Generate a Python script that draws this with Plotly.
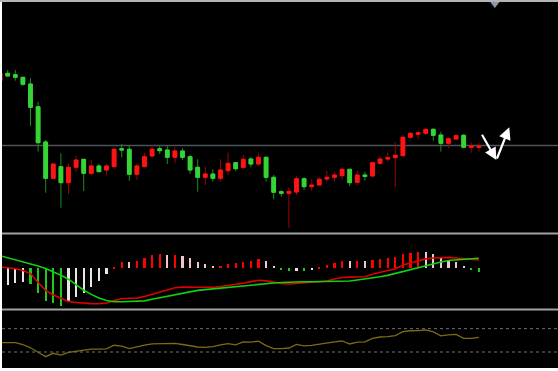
import plotly.graph_objects as go

# ---------------- data ----------------
idx = list(range(-1, 63))

opens = [16.93, 17.67, 17.53, 17.27, 16.60, 14.33, 10.80, 7.17, 8.33, 6.73, 8.27, 9.07, 7.67, 8.40, 8.00, 8.33,
         10.13, 10.07, 7.57, 8.33, 9.40, 10.13, 10.00, 9.27, 9.90, 9.33, 8.27, 7.27, 7.60, 7.17, 7.93, 8.73,
         8.27, 9.10, 8.60, 9.27, 7.27, 5.83, 5.67, 5.80, 7.13, 6.33, 6.50, 7.10, 7.27, 7.43, 8.07, 6.77,
         7.50, 7.40, 8.67, 9.10, 9.23, 9.43, 11.27, 11.57, 11.67, 12.07, 11.50, 10.67, 11.10, 11.47, 10.27, 10.27]
highs = [17.80, 18.00, 18.00, 17.30, 17.17, 14.83, 11.00, 8.60, 9.67, 8.67, 9.43, 9.07, 9.00, 8.63, 8.63, 10.17,
         10.60, 10.50, 8.67, 9.73, 10.50, 10.40, 10.40, 10.27, 10.17, 9.50, 9.07, 8.33, 8.07, 9.07, 9.73, 8.83,
         9.50, 9.27, 9.67, 9.33, 7.50, 6.00, 6.27, 7.43, 7.27, 7.07, 7.30, 7.90, 7.83, 8.17, 8.07, 7.93,
         7.83, 8.83, 9.33, 9.73, 10.77, 11.50, 11.73, 11.93, 12.17, 12.17, 11.83, 11.27, 11.60, 11.60, 10.73, 10.73]
lows = [16.80, 17.33, 16.93, 16.43, 12.43, 9.83, 5.73, 7.10, 4.23, 5.60, 7.83, 5.90, 7.47, 7.83, 7.50, 8.33,
        9.27, 6.93, 7.00, 8.33, 9.27, 9.60, 8.60, 8.67, 9.00, 7.60, 5.83, 6.50, 6.83, 6.83, 7.50, 7.93,
        8.07, 8.27, 8.40, 6.83, 5.07, 5.33, 2.23, 5.50, 6.00, 5.93, 6.45, 6.83, 6.83, 7.07, 6.40, 6.50,
        6.93, 7.27, 8.50, 8.83, 6.27, 9.43, 11.07, 11.07, 11.50, 10.93, 9.83, 10.17, 11.05, 10.17, 9.73, 9.83]
closes = [17.67, 17.40, 17.27, 16.57, 14.27, 10.73, 7.17, 8.60, 6.73, 8.27, 9.00, 7.67, 8.40, 7.83, 8.40, 10.07,
          10.00, 7.57, 8.40, 9.33, 10.07, 9.93, 9.27, 9.90, 9.27, 8.00, 7.27, 7.60, 7.17, 8.00, 8.67, 8.13,
          9.07, 8.60, 9.27, 7.27, 5.77, 5.67, 5.87, 7.13, 6.33, 6.50, 7.07, 7.27, 7.50, 8.07, 6.73, 7.50,
          7.35, 8.73, 9.10, 9.23, 9.47, 11.27, 11.67, 11.73, 12.07, 11.47, 10.67, 11.13, 11.43, 10.27, 10.40, 10.40]

dif = [0.016, 0.006, -0.004, -0.022, -0.053, -0.142, -0.221, -0.267, -0.303, -0.331, -0.342, -0.350, -0.353, -0.355,
       -0.347, -0.323, -0.304, -0.300, -0.299, -0.281, -0.261, -0.235, -0.215, -0.195, -0.187, -0.185, -0.189, -0.190,
       -0.190, -0.182, -0.172, -0.161, -0.150, -0.133, -0.120, -0.126, -0.139, -0.152, -0.157, -0.150, -0.145, -0.140,
       -0.133, -0.127, -0.107, -0.092, -0.088, -0.084, -0.084, -0.060, -0.039, -0.022, -0.007, 0.032, 0.054, 0.073,
       0.094, 0.103, 0.107, 0.109, 0.103, 0.094, 0.088, 0.083]
dea = [0.126, 0.106, 0.086, 0.066, 0.047, 0.023, -0.002, -0.033, -0.070, -0.109, -0.167, -0.219, -0.261, -0.297,
       -0.322, -0.334, -0.334, -0.333, -0.330, -0.326, -0.310, -0.295, -0.278, -0.261, -0.247, -0.233, -0.221, -0.213,
       -0.205, -0.198, -0.193, -0.185, -0.177, -0.169, -0.161, -0.154, -0.147, -0.142, -0.138, -0.135, -0.134, -0.134,
       -0.134, -0.134, -0.134, -0.133, -0.127, -0.117, -0.108, -0.097, -0.085, -0.071, -0.051, -0.035, -0.018, 0.003,
       0.026, 0.045, 0.063, 0.078, 0.086, 0.091, 0.096, 0.100]
macd_hist = [-0.180, -0.167, -0.150, -0.140, -0.160, -0.243, -0.327, -0.343, -0.373, -0.333, -0.283, -0.243, -0.190,
             -0.123, -0.060, 0.017, 0.067, 0.065, 0.073, 0.100, 0.133, 0.140, 0.133, 0.135, 0.127, 0.100, 0.060, 0.043,
             0.020, 0.023, 0.040, 0.050, 0.067, 0.073, 0.093, 0.073, 0.027, -0.020, -0.030, -0.023, -0.027, -0.017,
             0.010, 0.033, 0.050, 0.077, 0.073, 0.077, 0.073, 0.083, 0.093, 0.107, 0.110, 0.140, 0.157, 0.167, 0.163,
             0.140, 0.107, 0.083, 0.060, 0.027, -0.017, -0.033]

osc = [44.0, 44.0, 44.0, 39.3, 30.8, 19.3, 8.0, 16.7, 12.1, 19.3, 22.6, 24.9, 27.5, 27.2, 28.3, 37.3, 35.2, 29.0,
       33.9, 37.8, 40.9, 40.9, 41.1, 42.2, 39.3, 35.5, 32.9, 32.1, 33.9, 38.3, 41.6, 38.6, 45.8, 45.2, 48.1, 36.5,
       28.5, 28.8, 30.3, 39.6, 35.7, 37.3, 40.6, 42.9, 45.8, 48.3, 40.6, 45.2, 46.0, 54.8, 58.6, 59.4, 62.2, 72.2,
       74.6, 74.8, 76.6, 71.5, 61.7, 63.8, 65.3, 55.3, 55.3, 57.8]
osc_levels = [80, 20]

# arrow sketch (index, price): start, tip, end
arrow_pts = [(62.3, 11.67), (64.3, 9.0), (66.0, 12.27)]
marker_pt = (64.1, 24.6)

# ---------------- styling ----------------
RED_BODY, RED_WICK = "#ff1414", "#a00000"
GRN_BODY, GRN_WICK = "#36d436", "#1d8f1d"

fig = go.Figure()

# wicks (dark)
fig.add_trace(go.Candlestick(
    x=idx, open=opens, high=highs, low=lows, close=closes,
    increasing=dict(line=dict(color=RED_WICK, width=1), fillcolor=RED_WICK),
    decreasing=dict(line=dict(color=GRN_WICK, width=1), fillcolor=GRN_WICK),
    xaxis="x", yaxis="y", hoverinfo="skip", showlegend=False))
# bodies (bright)
body_hi = [max(o, c) for o, c in zip(opens, closes)]
body_lo = [min(o, c) for o, c in zip(opens, closes)]
fig.add_trace(go.Candlestick(
    x=idx, open=opens, high=body_hi, low=body_lo, close=closes,
    increasing=dict(line=dict(color=RED_BODY, width=1), fillcolor=RED_BODY),
    decreasing=dict(line=dict(color=GRN_BODY, width=1), fillcolor=GRN_BODY),
    xaxis="x", yaxis="y", hoverinfo="skip", showlegend=False))

# top marker
fig.add_trace(go.Scatter(x=[marker_pt[0]], y=[marker_pt[1]], mode="markers",
                         marker=dict(symbol="triangle-down", size=8, color="#8796aa"),
                         cliponaxis=False, xaxis="x", yaxis="y", showlegend=False))

# MACD histogram colours
colors = []
prev = None
for v in macd_hist:
    if prev is None:
        colors.append("#e6e6e6" if v < 0 else "#ff0000")
    elif v >= 0:
        colors.append("#ff0000" if v >= prev else "#f2c4cc")
    else:
        colors.append("#1ec81e" if v < prev else "#e6e6e6")
    prev = v

fig.add_trace(go.Bar(x=idx, y=macd_hist, marker=dict(color=colors, line=dict(width=0)),
                     width=0.27, xaxis="x", yaxis="y2", showlegend=False))
fig.add_trace(go.Scatter(x=idx, y=dif, mode="lines", line=dict(color="#e00000", width=1.6),
                         xaxis="x", yaxis="y2", showlegend=False))
fig.add_trace(go.Scatter(x=idx, y=dea, mode="lines", line=dict(color="#12d012", width=1.6),
                         xaxis="x", yaxis="y2", showlegend=False))

# oscillator
fig.add_trace(go.Scatter(x=idx, y=osc, mode="lines", line=dict(color="#7d6a14", width=1.3),
                         xaxis="x", yaxis="y3", showlegend=False))

H = 366.0
W = 556.0
def frac(py):
    return (368.0 - py) / H

shapes = [
    dict(type="rect", xref="paper", yref="paper", x0=0, x1=1, y0=0, y1=1,
         fillcolor="black", line=dict(width=0), layer="below"),
    dict(type="rect", xref="paper", yref="paper", x0=-2 / W, x1=1, y0=1, y1=1 + 2 / H,
         fillcolor="#b4b4b4", line=dict(width=0), layer="above"),
    dict(type="line", xref="paper", yref="paper", x0=0, x1=1, y0=frac(233.6), y1=frac(233.6),
         line=dict(color="#a2a2a2", width=2)),
    dict(type="line", xref="paper", yref="paper", x0=0, x1=1, y0=frac(309.6), y1=frac(309.6),
         line=dict(color="#a2a2a2", width=2)),
    dict(type="line", xref="paper", yref="y", x0=0, x1=1, y0=closes[-1] + 0.05, y1=closes[-1] + 0.05,
         line=dict(color="#4e525a", width=1.6), layer="below"),
]
for lv in osc_levels:
    shapes.append(dict(type="line", xref="paper", yref="y3", x0=0, x1=1, y0=lv, y1=lv,
                       line=dict(color="#707070", width=1, dash="dot")))

annotations = [
    dict(x=arrow_pts[1][0], y=arrow_pts[1][1], ax=arrow_pts[0][0], ay=arrow_pts[0][1],
         xref="x", yref="y", axref="x", ayref="y", text="", showarrow=True,
         arrowhead=2, arrowsize=1.1, arrowwidth=2.2, arrowcolor="white"),
    dict(x=arrow_pts[2][0], y=arrow_pts[2][1], ax=arrow_pts[1][0], ay=arrow_pts[1][1],
         xref="x", yref="y", axref="x", ayref="y", text="", showarrow=True,
         arrowhead=2, arrowsize=1.1, arrowwidth=2.2, arrowcolor="white"),
]

fig.update_layout(
    width=558, height=371,
    margin=dict(l=2, r=0, t=2, b=3, pad=0),
    paper_bgcolor="white", plot_bgcolor="black",
    showlegend=False, bargap=0,
    xaxis=dict(range=[-0.75, 72.41], visible=False, rangeslider=dict(visible=False),
               domain=[0, 1], anchor="y3", fixedrange=True),
    yaxis=dict(range=[1.8, 24.8], domain=[frac(232), 1], visible=False, anchor="x", fixedrange=True),
    yaxis2=dict(range=[-0.397, 0.343], domain=[frac(308), frac(234)], visible=False, anchor="x",
                fixedrange=True),
    yaxis3=dict(range=[-21.1, 128.0], domain=[0, frac(310)], visible=False, anchor="x", fixedrange=True),
    shapes=shapes, annotations=annotations,
)

fig.write_html(
    "out.html",
    config={"displayModeBar": False},
    post_script="document.body.style.margin='0';document.body.style.overflow='hidden';",
)
